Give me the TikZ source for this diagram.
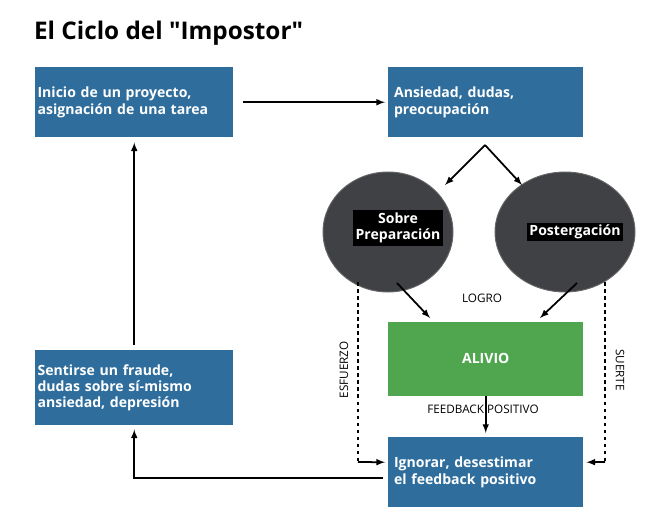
\documentclass[tikz,border=0pt]{standalone}
\usepackage{fontspec}
\setmainfont{Open Sans}
\usetikzlibrary{positioning,calc,shapes.geometric}
\definecolor{boxblue}{HTML}{2F6E9C}
\definecolor{boxgreen}{HTML}{4FA64F}
\definecolor{ovalgray}{HTML}{3F4144}
\tikzset{
  stepbox/.style={fill=boxblue, text=white, font=\bfseries\large, minimum width=5.85cm, minimum height=2.1cm, align=left, inner sep=2pt},
  oval/.style={ellipse, fill=ovalgray, draw=black!60, thick},
  flow/.style={-latex, line width=1.5pt},
  tag/.style={fill=black, text=white, font=\bfseries\large, align=center, inner sep=2pt},
  small/.style={font=\normalsize}
}
\begin{document}
\begin{tikzpicture}[x=0.03cm,y=-0.03cm]
				\useasboundingbox (0,0) rectangle (669,525);
				
				\node [anchor=west, font=\bfseries\huge] (title) at (30,33) {El Ciclo del \textquotedbl Impostor\textquotedbl};
				
				\node [stepbox, anchor=north west, text width=5.8cm] (inicio) at (35,67) {Inicio de un proyecto,\\asignación de una tarea};
				\node [stepbox, anchor=north west, text width=5.5cm] (ansiedad) at (388,67) {Ansiedad, dudas,\\preocupación};
				\node [stepbox, anchor=north west, text width=5.8cm, minimum height=2.25cm] (fraude) at (35,350) {Sentirse un fraude,\\dudas sobre sí-mismo\\ansiedad, depresión};
				\node [stepbox, anchor=north west, text width=5.5cm] (ignorar) at (388,437) {Ignorar, desestimar\\el feedback positivo};
				\node [stepbox, anchor=north west, fill=boxgreen, align=center, minimum height=2.2cm, text width=5.5cm] (alivio) at (388,322) {ALIVIO};
				
				\node [oval, minimum width=3.9cm, minimum height=3.6cm] (sobre) at (388,232) {};
				\node [oval, minimum width=4.2cm, minimum height=3.6cm] (poster) at (565,232) {};
				\node [tag] at (398,228) {Sobre\\Preparación};
				\node [tag] at (575,232) {Postergación};
				
				% connectors
				\draw [flow] ($(inicio.east)+(10,0)$) -- ($(ansiedad.west)+(-3,0)$);
				\coordinate (tip) at (485,145);
				\draw [flow] (tip) -- (445,185);
				\draw [flow] (tip) -- (522,185);
				\draw [flow] (397,283) -- (430,318);
				\draw [flow] (577,283) -- (540,318);
				\draw [flow] (alivio.south) -- ++(0,37);
				\draw [line width=1.5pt, dashed] (358,282) -- (358,462);
				\draw [flow] (358,462) -- ($(ignorar.west)+(-3,-10)$);
				\draw [line width=1.5pt, dashed] (605,282) -- (605,462);
				\draw [flow] (605,462) -- ($(ignorar.east)+(3,-10)$);
				\draw [flow] ($(ignorar.west)+(-5,6)$) -| ($(fraude.south)+(0,4)$);
				\draw [flow] ($(fraude.north)+(0,-5)$) -- ($(inicio.south)+(0,5)$);
				
				\node [small] at (482,298) {LOGRO};
				\node [small] at (483,409) {FEEDBACK POSITIVO};
				\node [small, rotate=90] at (344,370) {ESFUERZO};
				\node [small, rotate=-90] at (620,370) {SUERTE};
\end{tikzpicture}
\end{document}
